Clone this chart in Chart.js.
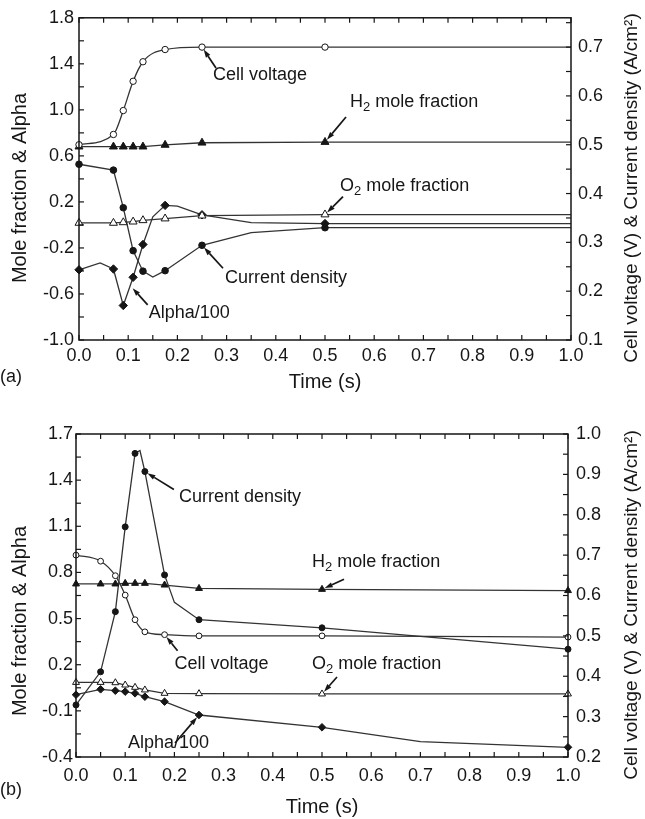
<!DOCTYPE html>
<html>
<head>
<meta charset="utf-8">
<script src="https://cdn.jsdelivr.net/npm/chart.js@4.4.1/dist/chart.umd.min.js"></script>
<style>
  body { margin: 0; background: #fff; }
  canvas { display: block; }
</style>
</head>
<body>
<canvas id="chartA" width="645" height="410"></canvas>
<canvas id="chartB" width="645" height="409"></canvas>
<script>
const FONT = '"Liberation Sans", Arial, Helvetica, sans-serif';
const INK = "#161616";
const LINE = "#333333";

// shared time axis ticks
const xTicks = [0, 0.1, 0.2, 0.3, 0.4, 0.5, 0.6, 0.7, 0.8, 0.9, 1.0];

// ---- panel (a) ----
const leftTicksA = [-1.0, -0.6, -0.2, 0.2, 0.6, 1.0, 1.4, 1.8];
const rightTicksA = [0.1, 0.2, 0.3, 0.4, 0.5, 0.6, 0.7];

const cellVoltageA_t = [0, 0.07, 0.09, 0.11, 0.13, 0.175, 0.25, 0.5, 1.0];
const cellVoltageA = [0.5, 0.521, 0.57, 0.63, 0.67, 0.695, 0.7, 0.7, 0.7];
const cellVoltageA_marks = [1, 1, 1, 1, 1, 1, 1, 1, 0];

const h2A_t = [0, 0.07, 0.09, 0.11, 0.13, 0.175, 0.25, 0.5, 1.0];
const h2A = [0.68, 0.68, 0.68, 0.68, 0.68, 0.695, 0.714, 0.72, 0.72];
const h2A_marks = [1, 1, 1, 1, 1, 1, 1, 1, 0];

const o2A_t = [0, 0.07, 0.09, 0.11, 0.13, 0.175, 0.25, 0.5, 1.0];
const o2A = [0.017, 0.017, 0.022, 0.028, 0.04, 0.055, 0.08, 0.09, 0.09];
const o2A_marks = [1, 1, 1, 1, 1, 1, 1, 1, 0];

const currentA_t = [0, 0.07, 0.09, 0.11, 0.13, 0.15, 0.175, 0.25, 0.35, 0.5, 1.0];
const currentA = [0.46, 0.448, 0.371, 0.283, 0.241, 0.229, 0.242, 0.294, 0.32, 0.33, 0.33];
const currentA_marks = [1, 1, 1, 1, 1, 0, 1, 1, 0, 1, 0];

const alphaA_t = [0, 0.043, 0.07, 0.09, 0.11, 0.13, 0.15, 0.175, 0.2, 0.25, 0.35, 0.5, 1.0];
const alphaA = [-0.39, -0.33, -0.383, -0.7, -0.455, -0.17, 0.07, 0.17, 0.163, 0.088, 0.02, 0.012, 0.012];
const alphaA_marks = [1, 0, 1, 1, 1, 1, 0, 1, 0, 1, 0, 1, 0];

// ---- panel (b) ----
const leftTicksB = [-0.4, -0.1, 0.2, 0.5, 0.8, 1.1, 1.4, 1.7];
const rightTicksB = [0.2, 0.3, 0.4, 0.5, 0.6, 0.7, 0.8, 0.9, 1.0];

const cellVoltageB_t = [0, 0.05, 0.08, 0.1, 0.12, 0.14, 0.18, 0.25, 0.5, 1.0];
const cellVoltageB = [0.7, 0.685, 0.649, 0.601, 0.54, 0.51, 0.503, 0.5, 0.5, 0.497];
const cellVoltageB_marks = [1, 1, 1, 1, 1, 1, 1, 1, 1, 1];

const h2B_t = [0, 0.05, 0.08, 0.1, 0.12, 0.14, 0.18, 0.25, 0.5, 1.0];
const h2B = [0.725, 0.725, 0.725, 0.729, 0.729, 0.729, 0.718, 0.696, 0.69, 0.682];
const h2B_marks = [1, 1, 1, 1, 1, 1, 1, 1, 1, 1];

const o2B_t = [0, 0.05, 0.08, 0.1, 0.12, 0.14, 0.18, 0.25, 0.5, 1.0];
const o2B = [0.085, 0.085, 0.083, 0.068, 0.053, 0.036, 0.014, 0.012, 0.01, 0.01];
const o2B_marks = [1, 1, 1, 1, 1, 1, 1, 1, 1, 1];

const currentB_t = [0, 0.05, 0.08, 0.1, 0.12, 0.13, 0.14, 0.18, 0.2, 0.25, 0.5, 1.0];
const currentB = [0.329, 0.411, 0.56, 0.77, 0.952, 0.959, 0.907, 0.651, 0.583, 0.54, 0.52, 0.467];
const currentB_marks = [1, 1, 1, 1, 1, 0, 1, 1, 0, 1, 1, 1];

const alphaB_t = [0, 0.05, 0.08, 0.1, 0.12, 0.14, 0.18, 0.25, 0.5, 0.7, 1.0];
const alphaB = [0.005, 0.04, 0.031, 0.025, 0.014, -0.008, -0.04, -0.127, -0.207, -0.3, -0.337];
const alphaB_marks = [1, 1, 1, 1, 1, 1, 1, 1, 1, 0, 1];

function series(t, v, marks, axis, style, open, radius, curve) {
  return {
    data: t.map((x, i) => ({ x, y: v[i] })),
    yAxisID: axis,
    borderColor: LINE,
    borderWidth: 1.3,
    pointStyle: style,
    pointRadius: marks.map((m) => (m ? radius : 0)),
    pointBackgroundColor: open ? "#fff" : INK,
    pointBorderColor: INK,
    pointBorderWidth: 1,
    tension: 0,
    cubicInterpolationMode: curve ? "monotone" : "default",
    clip: false,
  };
}

function steps(min, max, step) {
  const out = [];
  const n = Math.round((max - min) / step);
  for (let k = 0; k <= n; k++) {
    const v = min + k * step;
    if (v <= max + 1e-9) out.push(v);
  }
  return out;
}

function drawRich(ctx, parts, x, y, size) {
  ctx.textBaseline = "middle";
  ctx.textAlign = "left";
  parts.forEach(([text, sub]) => {
    ctx.font = `${sub ? Math.round(size * 0.72) : size}px ${FONT}`;
    ctx.fillText(text, x, sub ? y + size * 0.3 : y);
    x += ctx.measureText(text).width;
  });
}

function arrow(ctx, x1, y1, x2, y2) {
  const ang = Math.atan2(y2 - y1, x2 - x1);
  const c = Math.cos(ang), s = Math.sin(ang);
  // stop at the marker edge
  x2 -= c * 3;
  y2 -= s * 3;
  const L = 8, W = 2.6;
  ctx.lineWidth = 1.7;
  ctx.beginPath();
  ctx.moveTo(x1, y1);
  ctx.lineTo(x2 - c * L, y2 - s * L);
  ctx.stroke();
  ctx.beginPath();
  ctx.moveTo(x2, y2);
  ctx.lineTo(x2 - c * L + s * W, y2 - s * L - c * W);
  ctx.lineTo(x2 - c * L - s * W, y2 - s * L + c * W);
  ctx.closePath();
  ctx.fill();
}

function overlay(p) {
  return {
    id: "overlay",
    afterDatasetsDraw(chart) {
      const { ctx, chartArea: a, scales } = chart;
      ctx.save();
      ctx.strokeStyle = INK;
      ctx.fillStyle = INK;

      // frame
      ctx.lineWidth = 1.5;
      ctx.strokeRect(a.left, a.top, a.right - a.left, a.bottom - a.top);

      // inward tick marks, major and minor
      const TICK = 5;
      ctx.lineWidth = 1.2;
      const tick = (x1, y1, x2, y2) => {
        ctx.beginPath();
        ctx.moveTo(x1, y1);
        ctx.lineTo(x2, y2);
        ctx.stroke();
      };
      steps(0, 1, 0.05).forEach((v) => {
        const x = scales.x.getPixelForValue(v);
        tick(x, a.bottom, x, a.bottom - TICK);
        tick(x, a.top, x, a.top + TICK);
      });
      steps(p.left.min, p.left.max, p.left.minor).forEach((v) => {
        const y = scales.yL.getPixelForValue(v);
        tick(a.left, y, a.left + TICK, y);
      });
      steps(p.right.min, p.right.max, p.right.minor).forEach((v) => {
        const y = scales.yR.getPixelForValue(v);
        tick(a.right, y, a.right - TICK, y);
      });

      // callouts with arrows
      p.notes.forEach((n) => {
        let px, py;
        if (n.ds !== undefined) {
          const pt = chart.getDatasetMeta(n.ds).data[n.i];
          px = pt.x;
          py = pt.y;
        } else {
          px = scales.x.getPixelForValue(n.x);
          py = scales.yL.getPixelForValue(n.y);
        }
        arrow(ctx, px + n.dx, py + n.dy, px, py);
        drawRich(ctx, n.parts, px + n.tx, py + n.ty, 18);
      });

      // vertical axis titles
      const vtext = (text, x, y, size) => {
        ctx.save();
        ctx.translate(x, y);
        ctx.rotate(-Math.PI / 2);
        ctx.font = `${size}px ${FONT}`;
        ctx.textAlign = "center";
        ctx.textBaseline = "middle";
        ctx.fillText(text, 0, 0);
        ctx.restore();
      };
      vtext("Mole fraction & Alpha", 20, p.leftTitleY, 20);
      vtext("Cell voltage (V) & Current density (A/cm\u00B2)", 632, p.rightTitleY, 19);

      // panel tag
      ctx.font = `18px ${FONT}`;
      ctx.textAlign = "left";
      ctx.textBaseline = "middle";
      ctx.fillText(p.tag, 0, p.tagY);
      ctx.restore();
    },
  };
}

function yAxis(pos, cfg, width, pad) {
  return {
    type: "linear",
    position: pos,
    min: cfg.min,
    max: cfg.max,
    afterBuildTicks: (s) => {
      s.ticks = cfg.ticks.map((v) => ({ value: v }));
    },
    afterFit: (s) => {
      s.width = width;
    },
    grid: { display: false, drawTicks: false },
    border: { display: false },
    ticks: {
      color: INK,
      font: { family: FONT, size: 18 },
      padding: pad,
      callback: (v) => v.toFixed(1),
    },
  };
}

function makeChart(id, p) {
  const ctx = document.getElementById(id).getContext("2d");
  return new Chart(ctx, {
    type: "line",
    data: { datasets: p.series },
    options: {
      responsive: false,
      animation: false,
      events: [],
      layout: { padding: { top: p.top, left: 0, right: 0, bottom: 0 } },
      plugins: { legend: { display: false }, tooltip: { enabled: false } },
      scales: {
        x: {
          type: "linear",
          min: 0,
          max: 1,
          afterBuildTicks: (s) => {
            s.ticks = xTicks.map((v) => ({ value: v }));
          },
          afterFit: (s) => {
            s.height = p.xHeight;
          },
          grid: { display: false, drawTicks: false },
          border: { display: false },
          ticks: {
            color: INK,
            font: { family: FONT, size: 18 },
            padding: p.xPad,
            maxRotation: 0,
            autoSkip: false,
            callback: (v) => v.toFixed(1),
          },
          title: {
            display: true,
            text: "Time (s)",
            color: INK,
            font: { family: FONT, size: 20 },
            padding: { top: 0, bottom: p.xTitlePad },
          },
        },
        yL: yAxis("left", p.left, p.leftWidth, p.leftPad),
        yR: yAxis("right", p.right, p.rightWidth, p.rightPad),
      },
    },
    plugins: [overlay(p)],
  });
}

makeChart("chartA", {
  top: 15,
  xHeight: 70,
  leftWidth: 79,
  rightWidth: 74,
  xPad: 5,
  xTitlePad: 16,
  leftPad: 5,
  rightPad: 7,
  left: { min: -1.0, max: 1.8, minor: 0.2, ticks: leftTicksA },
  right: { min: 0.1, max: 0.76, minor: 0.05, ticks: rightTicksA },
  leftTitleY: 188,
  rightTitleY: 188,
  tag: "(a)",
  tagY: 377,
  series: [
    series(cellVoltageA_t, cellVoltageA, cellVoltageA_marks, "yR", "circle", true, 3.2, true),
    series(h2A_t, h2A, h2A_marks, "yL", "triangle", false, 4.6, false),
    series(o2A_t, o2A, o2A_marks, "yL", "triangle", true, 4.6, false),
    series(currentA_t, currentA, currentA_marks, "yR", "circle", false, 3.3, false),
    series(alphaA_t, alphaA, alphaA_marks, "yL", "rectRot", false, 4.2, false),
  ],
  notes: [
    { parts: [["Cell voltage"]], ds: 0, i: 6, dx: 14, dy: 21, tx: 11, ty: 28 },
    { parts: [["H"], ["2", true], [" mole fraction"]], ds: 1, i: 7, dx: 21, dy: -25, tx: 25, ty: -40 },
    { parts: [["O"], ["2", true], [" mole fraction"]], ds: 2, i: 7, dx: 18, dy: -18, tx: 15, ty: -29 },
    { parts: [["Current density"]], ds: 3, i: 7, dx: 21, dy: 23, tx: 23, ty: 33 },
    { parts: [["Alpha/100"]], x: 0.105, y: -0.53, dx: 17, dy: 19, tx: 18, ty: 27 },
  ],
});

makeChart("chartB", {
  top: 24,
  xHeight: 62,
  leftWidth: 76,
  rightWidth: 77,
  xPad: 8,
  xTitlePad: 0,
  leftPad: 3,
  rightPad: 8,
  left: { min: -0.4, max: 1.7, minor: 0.15, ticks: leftTicksB },
  right: { min: 0.2, max: 1.0, minor: 0.05, ticks: rightTicksB },
  leftTitleY: 211,
  rightTitleY: 195,
  tag: "(b)",
  tagY: 380,
  series: [
    series(cellVoltageB_t, cellVoltageB, cellVoltageB_marks, "yR", "circle", true, 2.9, true),
    series(h2B_t, h2B, h2B_marks, "yL", "triangle", false, 4, false),
    series(o2B_t, o2B, o2B_marks, "yL", "triangle", true, 4, false),
    series(currentB_t, currentB, currentB_marks, "yR", "circle", false, 3, false),
    series(alphaB_t, alphaB, alphaB_marks, "yL", "rectRot", false, 3.8, false),
  ],
  notes: [
    { parts: [["Current density"]], ds: 3, i: 6, dx: 29, dy: 18, tx: 34, ty: 25 },
    { parts: [["H"], ["2", true], [" mole fraction"]], ds: 1, i: 8, dx: 22, dy: -10, tx: -10, ty: -27 },
    { parts: [["Cell voltage"]], ds: 0, i: 6, dx: 13, dy: 16, tx: 10, ty: 29 },
    { parts: [["O"], ["2", true], [" mole fraction"]], ds: 2, i: 8, dx: 15, dy: -17, tx: -10, ty: -30 },
    { parts: [["Alpha/100"]], ds: 4, i: 7, dx: -24, dy: 28, tx: -71, ty: 28 },
  ],
});
</script>
</body>
</html>
